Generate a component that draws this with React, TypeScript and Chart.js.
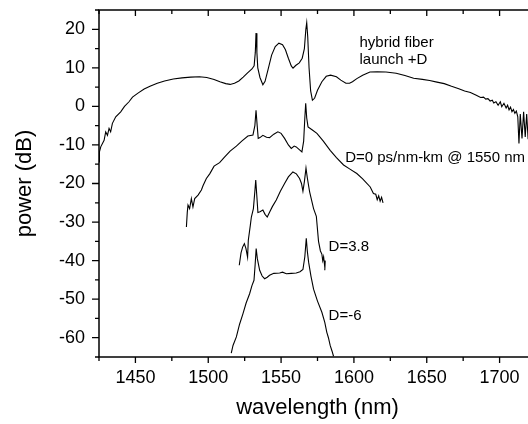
import React, { useEffect, useRef } from "react";
import { Chart, registerables } from "chart.js";

Chart.register(...registerables);

const FONT = '"Liberation Sans", Arial, Helvetica, sans-serif';

// hybrid fiber, launch +D
const hybridWl = [
  1425.0, 1425.3, 1426.2, 1428.5, 1429.6, 1430.8, 1431.9, 1433.0, 1434.2, 1436.5,
  1439.9, 1442.5, 1445.6, 1448.0, 1452, 1456, 1460, 1465, 1470, 1476,
  1482, 1488, 1494, 1499, 1504, 1508, 1512, 1515, 1518, 1521,
  1524, 1527, 1530, 1531.5, 1532.3, 1532.8, 1533.4, 1534, 1535.5, 1537.5,
  1539, 1541, 1543.5, 1546, 1548.5, 1551, 1553, 1555, 1557, 1558.2,
  1560, 1562.5, 1564.5, 1566, 1567, 1567.6, 1568.3, 1569.2, 1570.3, 1571.5,
  1573, 1575, 1578, 1581, 1584, 1588, 1591, 1594.5, 1597, 1599,
  1602, 1606, 1611, 1616, 1622, 1629, 1635, 1641, 1647, 1652,
  1657, 1662, 1667, 1672, 1676, 1680, 1684, 1687, 1689, 1690.5,
  1692, 1693.5, 1695, 1696, 1697.5, 1699, 1700.5, 1701.5, 1703, 1704.5,
  1705.5, 1706.5, 1707.5, 1708.5, 1709.5, 1710.5, 1711.5, 1712.5, 1713.3, 1714.2,
  1715.4, 1716.5, 1717.6, 1718.6, 1719.6, 1720.6, 1721.6, 1722.6, 1723.6, 1724.6,
];
const hybridDb = [
  -14.4, -11.8, -10.5, -8.8, -6.6, -7.5, -5.7, -6.6, -4.4, -2.7,
  -1.4, 0.0, 1.2, 2.4, 3.5, 4.5, 5.2, 6.0, 6.6, 7.1,
  7.4, 7.6, 7.7, 7.5, 7.0, 6.4, 5.9, 5.7, 6.0, 6.6,
  7.6, 8.7, 9.7, 10.5, 14.0, 19.0, 14.0, 10.0, 7.5, 5.6,
  6.5, 9.5, 13.3, 15.5, 16.4, 16.0, 14.7, 12.5, 10.5, 9.9,
  10.6, 11.3, 12.5, 15.0, 20.0, 21.7, 18.0, 10.0, 4.0, 1.6,
  2.1, 4.2, 6.4, 7.8, 8.1, 7.7, 6.8, 6.0, 6.0, 6.4,
  7.2, 8.1, 8.9, 9.0, 8.9, 8.6, 8.0, 7.3, 7.0, 6.7,
  6.3, 5.9, 5.2, 4.6, 4.0, 3.6, 2.9, 2.3, 2.4, 1.9,
  2.0, 1.4, 1.6, 0.9, 1.2, 0.3, 1.2, -0.1, 0.8, -0.4,
  0.3, -0.9, -0.2, -1.4, -0.8, -1.8, -1.2, -2.7, -9.6, -2.0,
  -8.3, -1.4, -7.9, -2.0, -8.5, -2.5, -7.5, -2.8, -6.5, -3.0,
];

// D=0 ps/nm-km @ 1550 nm
const d0Wl = [
  1485.0, 1485.6, 1486.1, 1487.2, 1488.4, 1489.5, 1490.7, 1493.0, 1495.3, 1496.4,
  1498.7, 1501, 1504, 1507.8, 1511, 1515, 1519.3, 1523, 1527.2, 1530.7,
  1532, 1532.8, 1533.6, 1534.3, 1535.5, 1537.5, 1540, 1542.1, 1545, 1547.8,
  1550, 1552.4, 1555, 1557, 1559, 1560.4, 1562.5, 1564.3, 1565.5, 1566.3,
  1566.9, 1567.6, 1568.5, 1571, 1574.6, 1579, 1583.7, 1588, 1592.9, 1597,
  1602, 1606, 1611.2, 1613.4, 1615, 1616, 1617, 1618, 1619, 1620,
];
const d0Db = [
  -31.3, -27.5, -25.6, -26.5, -23.9, -26.1, -23.9, -23.0, -21.7, -20.6,
  -18.7, -17.5, -15.5, -14.6, -13.2, -11.6, -10.3, -9.0, -7.7, -7.4,
  -5.0, -1.0, -5.0, -8.3, -8.1, -7.5, -8.0, -8.1, -7.2, -6.6,
  -7.0, -8.3, -10.0, -10.9, -10.3, -10.5, -11.2, -11.8, -9.0, -3.0,
  0.8, -3.0, -5.3, -6.0, -7.0, -9.0, -11.4, -13.3, -15.2, -16.2,
  -17.4, -18.8, -20.9, -22.6, -22.8, -24.2, -23.2, -24.6, -23.6, -25.0,
];

// D=3.8
const d38Wl = [
  1521.3, 1522.5, 1523.6, 1524.8, 1525.9, 1527.0, 1527.5, 1528.9, 1529.6, 1531,
  1532, 1532.6, 1533.3, 1534.1, 1535.5, 1537.5, 1539, 1540.5, 1542, 1544,
  1546.7, 1549.5, 1552.4, 1555, 1558.1, 1560.5, 1562.7, 1564, 1565, 1566,
  1567.1, 1568, 1569.6, 1572.3, 1574.2, 1575.7, 1577, 1578, 1578.6, 1579.2,
  1579.8, 1580.3, 1580.0,
];
const d38Db = [
  -41.2, -38.0, -36.5, -35.6, -36.9, -39.1, -34.7, -30.8, -28.7, -26.5,
  -22.0, -19.1, -23.0, -27.5, -27.3, -26.9, -28.0, -28.7, -27.5, -26.0,
  -24.3, -22.0, -20.0, -18.3, -17.0, -17.5, -18.7, -20.0, -22.0, -19.5,
  -16.0, -18.5, -22.2, -26.5, -28.5, -35.0, -37.5, -38.3, -40.0, -39.0,
  -41.0, -40.0, -42.5,
];

// D=-6
const dm6Wl = [
  1515.8, 1517, 1519.3, 1521.5, 1523.8, 1526, 1528.4, 1530, 1531.4, 1532.2,
  1532.9, 1533.7, 1535.3, 1537, 1538.7, 1540.5, 1542.1, 1545, 1549, 1551,
  1553.6, 1557, 1560.4, 1563, 1565, 1566.3, 1567.3, 1568, 1568.9, 1570.5,
  1572.3, 1575, 1578, 1580, 1581.4, 1582.5, 1583.7, 1585, 1586,
];
const dm6Db = [
  -64.0, -62.0, -59.8, -56.5, -53.8, -51.0, -48.6, -46.5, -45.1, -41.0,
  -36.9, -39.5, -42.5, -44.0, -44.7, -44.3, -43.8, -43.3, -43.2, -43.0,
  -43.4, -43.3, -43.2, -42.9, -42.3, -39.0, -34.2, -37.5, -40.4, -44.0,
  -47.4, -50.5, -53.4, -56.0, -58.6, -60.0, -62.0, -63.5, -64.8,
];

const xTickValues = [1450, 1500, 1550, 1600, 1650, 1700];
const yTickValues = [-60, -50, -40, -30, -20, -10, 0, 10, 20];

const labelTexts = ["hybrid fiber", "launch +D", "D=0 ps/nm-km @ 1550 nm", "D=3.8", "D=-6"];
const labelWl = [1603.8, 1603.8, 1594.0, 1582.6, 1582.6];
const labelDb = [15.5, 10.9, -14.5, -37.6, -55.3];

const toPoints = (xs: number[], ys: number[]) => xs.map((x, i) => ({ x, y: ys[i] }));

const framePlugin = {
  id: "frameTicks",
  afterDraw(chart: any) {
    const { ctx, chartArea: a, scales } = chart;
    const x = scales.x;
    const y = scales.y;
    ctx.save();
    ctx.strokeStyle = "#000";
    ctx.lineWidth = 1.5;
    ctx.strokeRect(a.left, a.top, a.right - a.left, a.bottom - a.top);
    ctx.lineWidth = 1.3;
    ctx.beginPath();
    for (let v = x.min; v <= x.max + 1e-6; v += 25) {
      const px = x.getPixelForValue(v);
      const major = Math.abs(v % 50) < 1e-6;
      const len = major ? 6 : 4;
      ctx.moveTo(px, a.bottom);
      ctx.lineTo(px, a.bottom + len);
      ctx.moveTo(px, a.top);
      ctx.lineTo(px, a.top + len);
    }
    for (let v = y.min; v <= y.max + 1e-6; v += 5) {
      const py = y.getPixelForValue(v);
      const major = Math.abs(v % 10) < 1e-6;
      const len = major ? 7 : 4;
      ctx.moveTo(a.left - len, py);
      ctx.lineTo(a.left, py);
      ctx.moveTo(a.right - len, py);
      ctx.lineTo(a.right, py);
    }
    ctx.stroke();
    ctx.fillStyle = "#000";
    ctx.font = `15px ${FONT}`;
    ctx.textAlign = "left";
    ctx.textBaseline = "alphabetic";
    labelTexts.forEach((t, i) => {
      ctx.fillText(t, x.getPixelForValue(labelWl[i]), y.getPixelForValue(labelDb[i]));
    });
    ctx.restore();
  },
};

export default function App() {
  const ref = useRef<HTMLCanvasElement>(null);
  useEffect(() => {
    if (!ref.current) return;
    Chart.defaults.font.family = FONT;
    const mk = (xs: number[], ys: number[]) => ({
      data: toPoints(xs, ys),
      borderColor: "#000",
      borderWidth: 1.1,
      pointRadius: 0,
      tension: 0,
      fill: false,
    });
    const chart = new Chart(ref.current, {
      type: "line",
      data: {
        datasets: [
          mk(hybridWl, hybridDb),
          mk(d0Wl, d0Db),
          mk(d38Wl, d38Db),
          mk(dm6Wl, dm6Db),
        ] as any,
      },
      options: {
        responsive: false,
        animation: false,
        devicePixelRatio: 1,
        layout: { padding: { left: 0, right: 12, top: 10, bottom: 0 } },
        plugins: { legend: { display: false }, tooltip: { enabled: false } },
        scales: {
          x: {
            type: "linear",
            min: 1425,
            max: 1725,
            afterBuildTicks: (s: any) => {
              s.ticks = xTickValues.map((v) => ({ value: v }));
            },
            afterFit: (s: any) => {
              s.height = 67;
              s.paddingLeft = 0;
              s.paddingRight = 0;
            },
            grid: { display: false, drawTicks: false },
            border: { display: false },
            ticks: {
              font: { size: 18, family: FONT },
              color: "#000",
              padding: 10,
              maxRotation: 0,
              autoSkip: false,
              callback: (v: any) => String(v),
            },
            title: {
              display: true,
              text: "wavelength (nm)",
              font: { size: 22, family: FONT },
              color: "#000",
              padding: { top: 0, bottom: 3 },
            },
          },
          y: {
            type: "linear",
            min: -65,
            max: 25,
            afterBuildTicks: (s: any) => {
              s.ticks = yTickValues.map((v) => ({ value: v }));
            },
            afterFit: (s: any) => {
              s.width = 99;
              s.paddingTop = 0;
              s.paddingBottom = 0;
            },
            grid: { display: false, drawTicks: false },
            border: { display: false },
            ticks: {
              font: { size: 18, family: FONT },
              color: "#000",
              padding: 14,
              autoSkip: false,
              callback: (v: any) => String(v),
            },
            title: {
              display: true,
              text: "power (dB)",
              font: { size: 22, family: FONT },
              color: "#000",
              padding: { top: 12, bottom: 0 },
            },
          },
        },
      } as any,
      plugins: [framePlugin],
    });
    return () => chart.destroy();
  }, []);
  return (
    <div
      style={{
        position: "fixed",
        left: 0,
        top: 0,
        width: 528,
        height: 424,
        overflow: "hidden",
        background: "#fff",
      }}
    >
      <canvas ref={ref} width={548} height={424} style={{ display: "block" }} />
    </div>
  );
}
